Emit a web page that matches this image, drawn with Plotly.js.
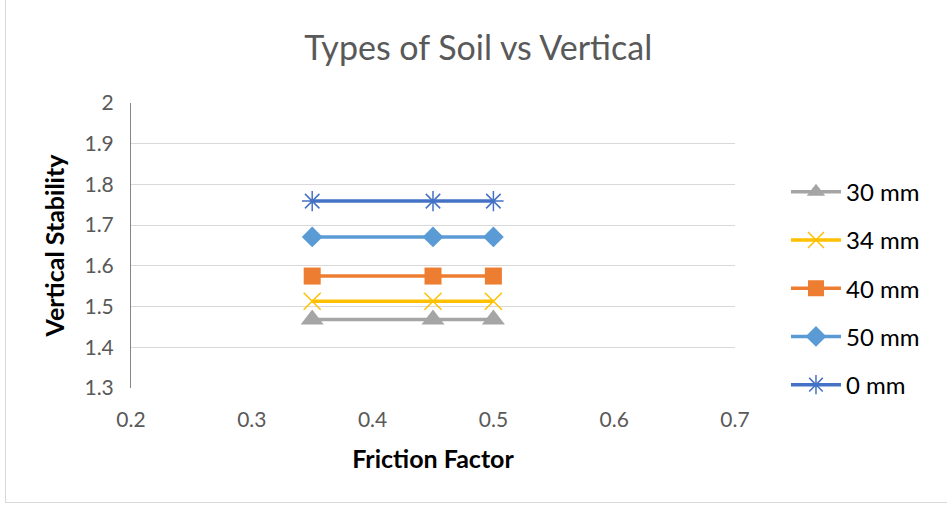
<!DOCTYPE html>
<html>
<head>
<meta charset="utf-8">
<script src="https://cdn.plot.ly/plotly-3.0.1.min.js"></script>
<style>
html,body{margin:0;padding:0;background:#fff;overflow:hidden;}
#frame{position:absolute;left:5px;top:-2px;width:950px;height:505px;border:1px solid #D9D9D9;box-sizing:border-box;pointer-events:none;z-index:5;}
#chart{position:absolute;left:0;top:0;width:947px;height:505px;}
</style>
</head>
<body>
<div id="chart"></div>
<div id="frame"></div>
<script>
const frictionFactor = [0.35, 0.45, 0.5];
const seriesNames = ["30 mm", "34 mm", "40 mm", "50 mm", "0 mm"];
const s30 = [1.468, 1.468, 1.468];
const s34 = [1.513, 1.513, 1.513];
const s40 = [1.575, 1.575, 1.575];
const s50 = [1.671, 1.671, 1.671];
const s0 = [1.759, 1.759, 1.759];

const values = [s30, s34, s40, s50, s0];
const colors = ["#A5A5A5", "#FFC000", "#ED7D31", "#5B9BD5", "#4472C4"];
const symbols = ["triangle-up", "x-thin-open", "square", "diamond", "asterisk-open"];
const sizes = [20, 17, 17, 16, 17];

const traces = values.map((v, i) => ({
  x: frictionFactor,
  y: v,
  name: seriesNames[i],
  type: "scatter",
  mode: "lines+markers",
  legendgroup: "g" + i,
  line: {color: colors[i], width: 3.5},
  marker: {symbol: symbols[i], size: sizes[i], color: colors[i],
           line: {color: colors[i], width: (symbols[i].indexOf("open") >= 0) ? 1.5 : 0}}
}));

const font = "Lato, 'Open Sans', sans-serif";
const layout = {
  width: 947, height: 505,
  margin: {l: 131, r: 212, t: 103, b: 117},
  paper_bgcolor: "#fff", plot_bgcolor: "#fff",
  font: {family: font, color: "#595959", size: 21},
  title: {text: "Types of Soil vs Vertical", font: {family: font, size: 34, color: "#595959"},
          x: 0.505, xref: "container", y: 0.905, yref: "container", xanchor: "center", yanchor: "middle"},
  xaxis: {
    range: [0.2, 0.7], dtick: 0.1, tick0: 0.2, showgrid: false, zeroline: false,
    showline: false, ticks: "", tickfont: {size: 21, color: "#595959"}, ticklabelstandoff: 17,
    title: {text: "<b>Friction Factor</b>", font: {size: 25, color: "#000"}, standoff: 20}
  },
  yaxis: {
    range: [1.3, 2], dtick: 0.1, tick0: 1.3, showgrid: true, gridcolor: "#D9D9D9", gridwidth: 1,
    zeroline: false, showline: true, linecolor: "#868686", linewidth: 1, ticks: "",
    tickfont: {size: 21, color: "#595959"}, ticklabelstandoff: 12,
    title: {text: "<b>Vertical Stability</b>", font: {size: 25, color: "#000"}, standoff: 12}
  },
  showlegend: true,
  legend: {x: 1.0844, xanchor: "left", y: 0.35, yanchor: "middle", tracegroupgap: 14,
           font: {size: 24, color: "#000"}, itemwidth: 50, bgcolor: "rgba(0,0,0,0)"}
};

Plotly.newPlot("chart", traces, layout, {displayModeBar: false, staticPlot: true});
</script>
</body>
</html>
